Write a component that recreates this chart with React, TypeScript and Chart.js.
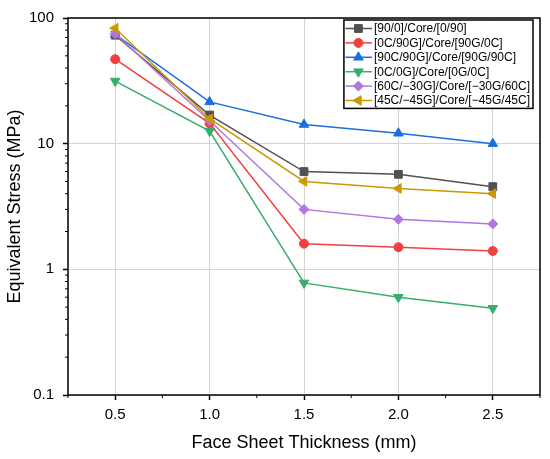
import React, { useEffect, useRef } from 'react';
import { Chart, registerables } from 'chart.js';
import { drawPoint } from 'chart.js/helpers';

Chart.register(...registerables);

// face sheet thickness (mm)
const thickness = [0.5, 1.0, 1.5, 2.0, 2.5];

const seriesNames = [
    '[90/0]/Core/[0/90]',
    '[0C/90G]/Core/[90G/0C]',
    '[90C/90G]/Core/[90G/90C]',
    '[0C/0G]/Core/[0G/0C]',
    '[60C/\u221230G]/Core/[\u221230G/60C]',
    '[45C/\u221245G]/Core/[\u221245G/45C]',
];

// equivalent stress (MPa)
const stress90_0 = [73, 16.9, 6.0, 5.7, 4.55];
const stress0C90G = [47, 14.5, 1.6, 1.5, 1.4];
const stress90C90G = [74, 21.5, 14.2, 12.1, 10.0];
const stress0C0G = [31.5, 12.6, 0.78, 0.6, 0.49];
const stress60C30G = [75, 15.2, 3.0, 2.5, 2.3];
const stress45C45G = [83, 15.8, 5.0, 4.4, 4.0];

const xTicks = [0.5, 1.0, 1.5, 2.0, 2.5];
const xMinorTicks = [0.25, 0.75, 1.25, 1.75, 2.25, 2.75];
const yTicks = [0.1, 1, 10, 100];
const yMinorTicks = [0.2, 0.3, 0.4, 0.5, 0.6, 0.7, 0.8, 0.9, 2, 3, 4, 5, 6, 7, 8, 9, 20, 30, 40, 50, 60, 70, 80, 90];

const colors = ['#515151', '#F14040', '#1A6FDF', '#37AD6B', '#B177DE', '#CC9900'];
const markers = ['rect', 'circle', 'triangle', 'triangle', 'rectRot', 'triangle'];
const rotations = [0, 0, 0, 180, 0, -90];
const radii = [5.5, 4.5, 5.5, 5.5, 5, 5.5];

const FONT = '"Liberation Sans", Arial, sans-serif';

const frameAndMinorTicks = {
    id: 'frameAndMinorTicks',
    beforeDatasetsDraw(chart: any) {
        const { ctx, chartArea } = chart;
        const xs = chart.scales.x;
        const ys = chart.scales.y;
        ctx.save();
        ctx.strokeStyle = '#000';
        ctx.lineWidth = 1;
        xMinorTicks.forEach((v) => {
            const px = xs.getPixelForValue(v);
            ctx.beginPath();
            ctx.moveTo(px, chartArea.bottom);
            ctx.lineTo(px, chartArea.bottom + 3);
            ctx.stroke();
        });
        yMinorTicks.forEach((v) => {
            const py = ys.getPixelForValue(v);
            ctx.beginPath();
            ctx.moveTo(chartArea.left, py);
            ctx.lineTo(chartArea.left - 3, py);
            ctx.stroke();
        });
        ctx.lineWidth = 1.5;
        ctx.strokeRect(chartArea.left, chartArea.top, chartArea.right - chartArea.left, chartArea.bottom - chartArea.top);
        ctx.restore();
    },
};

const lineLegend = {
    id: 'lineLegend',
    afterDraw(chart: any) {
        const { ctx, chartArea } = chart;
        ctx.save();
        ctx.font = `12px ${FONT}`;
        const textW = Math.max(...chart.data.datasets.map((d: any) => ctx.measureText(d.label).width));
        const rowH = 14.4;
        const w = 30 + textW + 3;
        const h = rowH * chart.data.datasets.length + 2;
        const right = chartArea.right - 7;
        const left = right - w;
        const top = chartArea.top + 2;
        ctx.fillStyle = '#fff';
        ctx.fillRect(left, top, w, h);
        ctx.strokeStyle = '#000';
        ctx.lineWidth = 1.5;
        ctx.strokeRect(left, top, w, h);
        chart.data.datasets.forEach((d: any, i: number) => {
            const cy = top + 8.5 + i * rowH;
            ctx.strokeStyle = d.borderColor;
            ctx.lineWidth = 1.5;
            ctx.beginPath();
            ctx.moveTo(left + 1.5, cy);
            ctx.lineTo(left + 28, cy);
            ctx.stroke();
            ctx.fillStyle = d.pointBackgroundColor;
            ctx.strokeStyle = d.pointBorderColor;
            ctx.lineWidth = 1;
            drawPoint(ctx, { pointStyle: d.pointStyle, rotation: d.pointRotation, radius: d.pointRadius, borderWidth: 1 } as any, left + 14.5, cy);
            ctx.fillStyle = '#000';
            ctx.textAlign = 'left';
            ctx.textBaseline = 'middle';
            ctx.fillText(d.label, left + 30, cy + 0.5);
        });
        ctx.restore();
    },
};

const App: React.FC = () => {
    const canvasRef = useRef<HTMLCanvasElement>(null);

    useEffect(() => {
        if (!canvasRef.current) return;
        const ctx = canvasRef.current.getContext('2d');
        if (!ctx) return;

        const allSeries = [stress90_0, stress0C90G, stress90C90G, stress0C0G, stress60C30G, stress45C45G];

        const chart = new Chart(ctx, {
            type: 'line',
            data: {
                datasets: allSeries.map((vals, i) => ({
                    label: seriesNames[i],
                    data: thickness.map((t, j) => ({ x: t, y: vals[j] })),
                    borderColor: colors[i],
                    backgroundColor: colors[i],
                    pointBackgroundColor: colors[i],
                    pointBorderColor: colors[i],
                    pointStyle: markers[i],
                    pointRotation: rotations[i],
                    pointRadius: radii[i],
                    pointBorderWidth: 1,
                    borderWidth: 1.5,
                    order: -i,
                })),
            },
            options: {
                animation: false,
                responsive: false,
                layout: { padding: { top: 15, right: 10, left: 0, bottom: 0 } },
                plugins: {
                    legend: { display: false },
                    tooltip: { enabled: false },
                },
                scales: {
                    x: {
                        type: 'linear',
                        min: 0.25,
                        max: 2.75,
                        afterBuildTicks: (s: any) => {
                            s.ticks = xTicks.map((v) => ({ value: v }));
                        },
                        afterFit: (s: any) => {
                            s.height = 64;
                        },
                        ticks: {
                            callback: (v: any) => Number(v).toFixed(1),
                            font: { family: FONT, size: 15 },
                            color: '#000',
                            padding: 6,
                            maxRotation: 0,
                        },
                        grid: {
                            color: '#d4d4d4',
                            lineWidth: 1,
                            tickColor: '#000',
                            tickLength: 5,
                            tickWidth: 1.5,
                        },
                        border: { display: false },
                        title: {
                            display: true,
                            text: 'Face Sheet Thickness (mm)',
                            font: { family: FONT, size: 18 },
                            color: '#000',
                            padding: { top: 0, bottom: 5 },
                        },
                    },
                    y: {
                        type: 'logarithmic',
                        min: 0.1,
                        max: 100,
                        afterBuildTicks: (s: any) => {
                            s.ticks = yTicks.map((v) => ({ value: v }));
                        },
                        afterFit: (s: any) => {
                            s.width = 68;
                        },
                        ticks: {
                            callback: (v: any) => String(v),
                            font: { family: FONT, size: 15 },
                            color: '#000',
                            padding: 9,
                        },
                        grid: {
                            color: '#d4d4d4',
                            lineWidth: 1,
                            tickColor: '#000',
                            tickLength: 5,
                            tickWidth: 1.5,
                        },
                        border: { display: false },
                        title: {
                            display: true,
                            text: 'Equivalent Stress (MPa)',
                            font: { family: FONT, size: 18 },
                            color: '#000',
                            padding: { top: 4, bottom: 0 },
                        },
                    },
                },
            },
            plugins: [frameAndMinorTicks, lineLegend],
        });

        return () => {
            chart.destroy();
        };
    }, []);

    return (
        <div style={{ position: 'absolute', left: 0, top: 0, width: 550, height: 459, background: '#fff' }}>
            <canvas ref={canvasRef} width={550} height={459} style={{ width: 550, height: 459 }}></canvas>
        </div>
    );
};

export default App;
